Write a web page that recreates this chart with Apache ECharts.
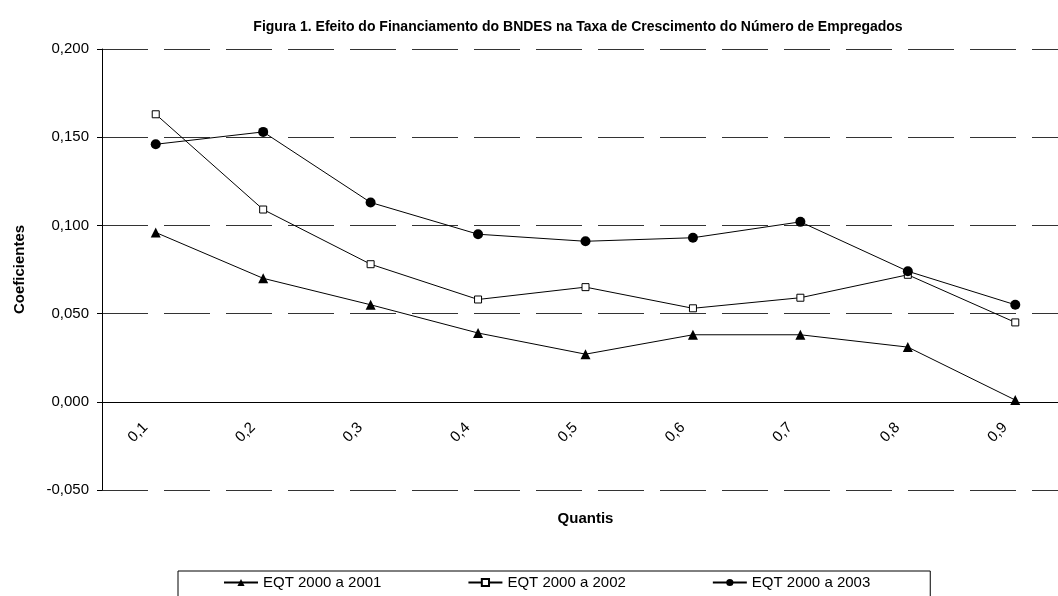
<!DOCTYPE html>
<html>
<head>
<meta charset="utf-8">
<title>Figura 1</title>
<script src="https://cdn.jsdelivr.net/npm/echarts@6/dist/echarts.min.js"></script>
<style>
  html, body { margin: 0; padding: 0; background: #fff; }
  #chart { width: 1058px; height: 596px; }
</style>
</head>
<body>
<div id="chart"></div>
<script>
// quantis no eixo x
const quantis = ['0,1', '0,2', '0,3', '0,4', '0,5', '0,6', '0,7', '0,8', '0,9'];

// coeficientes
const eqt2001 = [0.096, 0.070, 0.055, 0.039, 0.027, 0.038, 0.038, 0.031, 0.001];
const eqt2002 = [0.163, 0.109, 0.078, 0.058, 0.065, 0.053, 0.059, 0.072, 0.045];
const eqt2003 = [0.146, 0.153, 0.113, 0.095, 0.091, 0.093, 0.102, 0.074, 0.055];

const font = 'Liberation Sans';

// altura do grid: 596 - 49 - 106 = 441px para 0,25 -> eixo x fica em 0
const gridH = 441;
const zeroOffset = gridH * 0.05 / 0.25;

const chart = echarts.init(document.getElementById('chart'));

const options = {
  animation: false,
  textStyle: { fontFamily: font, color: '#000' },
  title: {
    text: 'Figura 1. Efeito do Financiamento do BNDES na Taxa de Crescimento do Número de Empregados',
    left: 578,
    textAlign: 'center',
    top: 20,
    padding: 0,
    textStyle: { fontFamily: font, fontSize: 14, fontWeight: 'bold', color: '#000' }
  },
  legend: {
    left: 178,
    top: 571,
    padding: [4, 60, 20, 45],
    itemGap: 86,
    itemWidth: 34,
    itemHeight: 9,
    borderColor: '#000',
    borderWidth: 1,
    textStyle: { fontFamily: font, fontSize: 15, color: '#000' },
    data: ['EQT 2000 a 2001', 'EQT 2000 a 2002', 'EQT 2000 a 2003']
  },
  grid: {
    left: 102,
    right: -11,
    top: 49,
    bottom: 106,
    outerBoundsMode: 'none'
  },
  xAxis: {
    type: 'category',
    data: quantis,
    position: 'bottom',
    offset: -zeroOffset,
    name: 'Quantis',
    nameLocation: 'middle',
    nameGap: 110,
    nameTextStyle: { fontFamily: font, fontSize: 15, fontWeight: 'bold', color: '#000' },
    axisLine: { onZero: false, lineStyle: { color: '#000', width: 1 } },
    axisTick: { length: 5, lineStyle: { color: '#000' } },
    axisLabel: {
      rotate: 45,
      align: 'center',
      verticalAlign: 'middle',
      margin: 13,
      padding: [0, 50, 0, 0],
      fontFamily: font,
      fontSize: 15,
      color: '#000'
    },
    splitLine: { show: false }
  },
  yAxis: {
    type: 'value',
    min: -0.05,
    max: 0.2,
    interval: 0.05,
    name: 'Coeficientes',
    nameLocation: 'middle',
    nameRotate: 90,
    nameGap: 75,
    nameTextStyle: { fontFamily: font, fontSize: 15, fontWeight: 'bold', color: '#000' },
    axisLine: { show: true, lineStyle: { color: '#000', width: 1 } },
    axisTick: { show: true, length: 5, lineStyle: { color: '#000' } },
    axisLabel: {
      margin: 13,
      fontFamily: font,
      fontSize: 15,
      color: '#000',
      formatter: v => v.toFixed(3).replace('.', ',')
    },
    splitLine: {
      show: true,
      lineStyle: { color: '#333', width: 1, type: [46, 16] }
    }
  },
  series: [
    {
      name: 'EQT 2000 a 2001',
      type: 'line',
      data: eqt2001,
      symbol: 'triangle',
      symbolSize: 10,
      lineStyle: { color: '#000', width: 1 },
      itemStyle: { color: '#000' },
      emphasis: { disabled: true }
    },
    {
      name: 'EQT 2000 a 2002',
      type: 'line',
      data: eqt2002,
      symbol: 'rect',
      symbolSize: 7,
      lineStyle: { color: '#000', width: 1 },
      itemStyle: { color: '#fff', borderColor: '#000', borderWidth: 1 },
      emphasis: { disabled: true }
    },
    {
      name: 'EQT 2000 a 2003',
      type: 'line',
      data: eqt2003,
      symbol: 'circle',
      symbolSize: 10,
      lineStyle: { color: '#000', width: 1 },
      itemStyle: { color: '#000' },
      emphasis: { disabled: true }
    }
  ]
};

chart.setOption(options);

window.addEventListener('resize', () => {
  chart.resize();
});
</script>
</body>
</html>
